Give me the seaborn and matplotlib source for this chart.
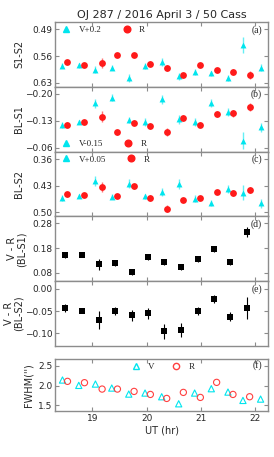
import matplotlib
matplotlib.use("Agg")
import matplotlib.pyplot as plt
import seaborn as sns
import pandas as pd
from matplotlib.lines import Line2D

# tiempos (UT, horas)
t_v = [18.448, 18.748, 19.055, 19.356, 19.669, 19.969, 20.276, 20.589, 20.883, 21.19, 21.497, 21.773, 22.098]
t_r = [18.540, 18.853, 19.178, 19.460, 19.767, 20.067, 20.368, 20.675, 20.988, 21.288, 21.589, 21.896]
t_vr = [18.49, 18.80, 19.12, 19.41, 19.72, 20.02, 20.32, 20.63, 20.94, 21.24, 21.54, 21.84]

# (a) S1-S2
a_v = [0.585, 0.584, 0.595, 0.590, 0.617, 0.586, 0.576, 0.613, 0.601, 0.605, 0.617, 0.531, 0.590]
a_v_err = [0.007, 0.006, 0.009, 0.006, 0.010, 0.007, 0.010, 0.010, 0.008, 0.007, 0.009, 0.020, 0.010]
a_r = [0.575, 0.582, 0.578, 0.558, 0.558, 0.580, 0.591, 0.608, 0.583, 0.597, 0.601, 0.609]
a_r_err = [0.005, 0.005, 0.014, 0.005, 0.005, 0.007, 0.009, 0.005, 0.005, 0.005, 0.008, 0.010]

# (b) BL-S1
b_v = [-0.1195, -0.1265, -0.1755, -0.190, -0.132, -0.1265, -0.186, -0.134, -0.127, -0.1755, -0.152, -0.078, -0.1125]
b_v_err = [0.008, 0.006, 0.012, 0.010, 0.007, 0.010, 0.012, 0.012, 0.010, 0.010, 0.010, 0.022, 0.012]
b_r = [-0.1195, -0.127, -0.141, -0.100, -0.125, -0.117, -0.101, -0.138, -0.1195, -0.148, -0.149, -0.166]
b_r_err = [0.006, 0.006, 0.015, 0.006, 0.006, 0.008, 0.010, 0.006, 0.006, 0.008, 0.010, 0.010]

# (c) BL-S2
c_v = [0.463, 0.4575, 0.4176, 0.459, 0.4247, 0.458, 0.447, 0.4256, 0.4637, 0.475, 0.438, 0.4486, 0.476]
c_v_err = [0.008, 0.006, 0.012, 0.006, 0.012, 0.007, 0.010, 0.012, 0.008, 0.007, 0.010, 0.020, 0.012]
c_r = [0.453, 0.454, 0.4335, 0.4566, 0.4318, 0.462, 0.490, 0.468, 0.462, 0.447, 0.450, 0.4415]
c_r_err = [0.006, 0.006, 0.013, 0.006, 0.006, 0.007, 0.009, 0.006, 0.006, 0.006, 0.008, 0.008]

# (d) V-R (BL-S1)
d_vr = [0.1503, 0.153, 0.115, 0.118, 0.0814, 0.142, 0.1246, 0.104, 0.1354, 0.1746, 0.1232, 0.245]
d_err = [0.009, 0.008, 0.022, 0.009, 0.011, 0.012, 0.013, 0.013, 0.010, 0.009, 0.011, 0.020]

# (e) V-R (BL-S2)
e_vr = [-0.0424, -0.049, -0.0697, -0.050, -0.060, -0.0553, -0.0955, -0.093, -0.0508, -0.0235, -0.063, -0.044]
e_err = [0.009, 0.005, 0.020, 0.009, 0.012, 0.012, 0.017, 0.016, 0.009, 0.009, 0.010, 0.025]

# (f) FWHM
f_v = [2.141, 2.004, 2.038, 1.936, 1.782, 1.808, 1.714, 1.534, 1.808, 1.919, 1.833, 1.62, 1.654]
f_r = [2.107, 2.073, 1.910, 1.910, 1.850, 1.773, 1.671, 1.825, 1.697, 2.081, 1.773, 1.714]

CYAN = "#00e5ee"
RED = "#ff1a1a"
RED_OPEN = "#ff4040"
GRAY = "#8c8c8c"
SERIF = {"family": "Liberation Serif", "size": 6.5}

sns.set_style("ticks")
plt.rcParams["font.family"] = ["DejaVu Sans"]

W, H = 274, 457
fig = plt.figure(figsize=(W / 100, H / 100), dpi=100)

left, right = 55, 268.3
top0, bot0 = 22, 346
ph = (bot0 - top0) / 5

def make_ax(y_top, y_bot):
  return fig.add_axes([left / W, 1 - y_bot / H, (right - left) / W, (y_bot - y_top) / H])

axes = [make_ax(top0 + i * ph, top0 + (i + 1) * ph) for i in range(5)]
axes.append(make_ax(359.3, 411))

def style(ax, yticks, fmt, ylim, label, ylabel, xlab):
  ax.set_xlim(18.31, 22.24)
  ax.set_ylim(*ylim)
  ax.set_yticks(yticks)
  ax.set_yticklabels([fmt.format(v).replace("-", "\u2212") for v in yticks])
  ax.set_xticks([19, 20, 21, 22])
  for s in ax.spines.values():
    s.set_color(GRAY)
    s.set_linewidth(1.0)
  ax.tick_params(direction="in", length=3, width=0.8, color=GRAY, labelsize=6.5,
                 top=True, right=True, pad=2)
  ax.text(0.97, 0.88, label, transform=ax.transAxes, ha="right", va="center",
          fontsize=7, family="Liberation Serif")
  ax.set_ylabel(ylabel, fontsize=7, linespacing=0.95)
  ax.yaxis.set_label_coords(xlab, 0.5)

def two_band(ax, tv, v, ve, tr, r, re):
  ax.errorbar(tv, v, yerr=ve, fmt="none", ecolor=CYAN, elinewidth=1.0, alpha=0.6)
  ax.errorbar(tr, r, yerr=re, fmt="none", ecolor=RED, elinewidth=1.0, alpha=0.6)
  sns.scatterplot(x=tv, y=v, ax=ax, marker="^", color=CYAN, s=18, linewidth=0)
  sns.scatterplot(x=tr, y=r, ax=ax, marker="o", color=RED, s=24, linewidth=0)

def band_legend(ax, vtxt, loc):
  h = [Line2D([], [], marker="^", color=CYAN, ls="none", ms=4.5),
       Line2D([], [], marker="o", color=RED, ls="none", ms=4.8)]
  ax.legend(h, [vtxt, "R"], loc=loc, ncol=2, frameon=False, handletextpad=0.6,
            columnspacing=2.0, borderaxespad=0.1, borderpad=0.3, handlelength=1.6,
            prop=SERIF)

# (a)
ax = axes[0]
two_band(ax, t_v, a_v, a_v_err, t_r, a_r, a_r_err)
style(ax, [0.49, 0.56, 0.63], "{:.2f}", (0.640, 0.471), "(a)", "S1-S2", -0.145)
band_legend(ax, "V+0.2", "upper left")

# (b)
ax = axes[1]
two_band(ax, t_v, b_v, b_v_err, t_r, b_r, b_r_err)
style(ax, [-0.20, -0.13, -0.06], "{:.2f}", (-0.050, -0.218), "(b)", "BL-S1", -0.145)
band_legend(ax, "V-0.15", "lower left")

# (c)
ax = axes[2]
two_band(ax, t_v, c_v, c_v_err, t_r, c_r, c_r_err)
style(ax, [0.36, 0.43, 0.50], "{:.2f}", (0.5106, 0.3405), "(c)", "BL-S2", -0.145)
band_legend(ax, "V+0.05", "upper left")

# (d)
ax = axes[3]
ax.errorbar(t_vr, d_vr, yerr=d_err, fmt="none", ecolor="black", elinewidth=0.8)
sns.scatterplot(x=t_vr, y=d_vr, ax=ax, marker="s", color="black", s=16, linewidth=0)
style(ax, [0.08, 0.18, 0.28], "{:.2f}", (0.046, 0.308), "(d)", "V - R\n(BL-S1)", -0.135)

# (e)
ax = axes[4]
ax.errorbar(t_vr, e_vr, yerr=e_err, fmt="none", ecolor="black", elinewidth=0.8)
sns.scatterplot(x=t_vr, y=e_vr, ax=ax, marker="s", color="black", s=16, linewidth=0)
style(ax, [-0.10, -0.05, 0.00], "{:.2f}", (-0.129, 0.0174), "(e)", "V - R\n(BL-S2)", -0.145)

# (f)
ax = axes[5]
fwhm = pd.DataFrame({"t": t_v + t_r, "fwhm": f_v + f_r,
                     "band": ["V"] * len(t_v) + ["R"] * len(t_r)})
for band, mk, col in [("V", "^", CYAN), ("R", "o", RED_OPEN)]:
  sub = fwhm[fwhm["band"] == band]
  sns.scatterplot(data=sub, x="t", y="fwhm", ax=ax, marker=mk, s=20,
                  facecolor="none", edgecolor=col, linewidth=0.8)
style(ax, [1.5, 2.0, 2.5], "{:.1f}", (1.35, 2.67), "(f)", "FWHM('')", -0.1)
h = [Line2D([], [], marker="^", mfc="none", mec=CYAN, ls="none", ms=4.5),
     Line2D([], [], marker="o", mfc="none", mec=RED_OPEN, ls="none", ms=4.5)]
ax.legend(h, ["V", "R"], loc="upper center", ncol=2, frameon=False, handletextpad=0.6,
          columnspacing=1.6, borderaxespad=0.1, borderpad=0.3, handlelength=1.6,
          prop=SERIF)
ax.set_xlabel("UT (hr)", fontsize=7, labelpad=2)

for ax in axes[:5]:
  ax.set_xticklabels([])
  ax.set_xlabel("")

fig.text(0.59, 1 - 15 / H, "OJ 287 / 2016 April 3 / 50 Cass", ha="center", va="center", fontsize=8)

fig.savefig("out.png", dpi=100)
